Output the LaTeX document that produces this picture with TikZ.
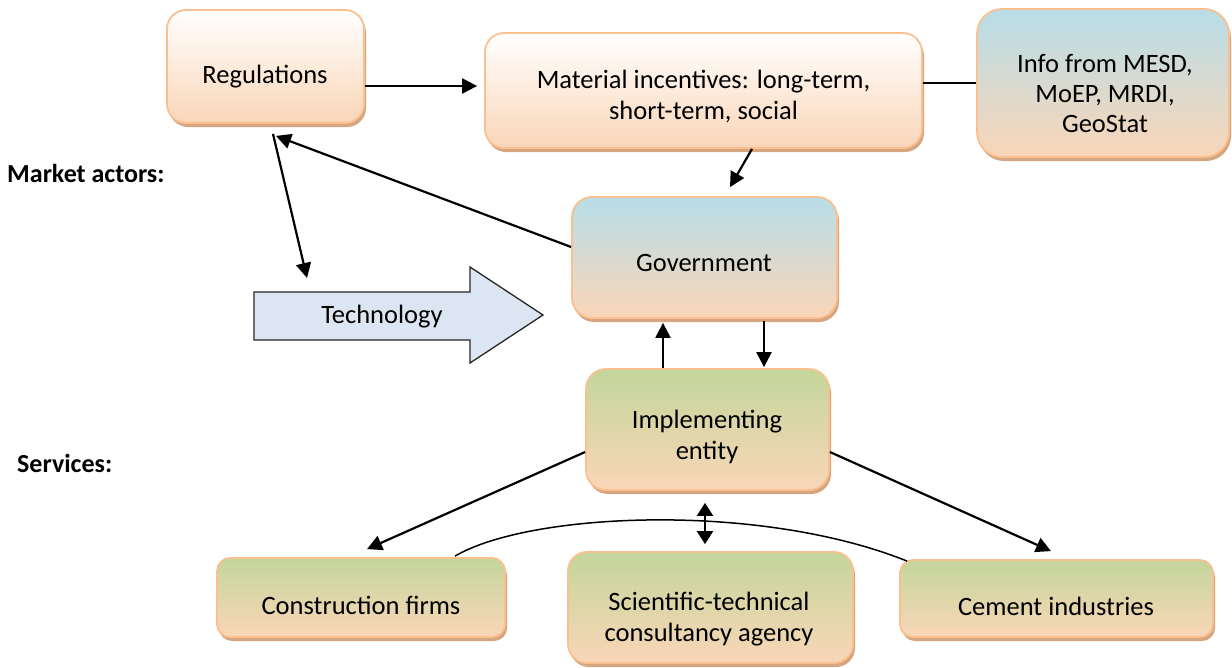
\documentclass[tikz,border=0pt]{standalone}
\usepackage{fontspec}
\setmainfont{Carlito}
\usetikzlibrary{arrows.meta,calc,shadows}
\definecolor{peach}{RGB}{250,214,184}
\definecolor{bluetop}{RGB}{183,221,232}
\definecolor{greentop}{RGB}{195,214,155}
\definecolor{borderc}{RGB}{250,192,144}
\definecolor{shadowc}{RGB}{214,166,128}
\definecolor{techfill}{RGB}{220,230,242}
\tikzset{
  box/.style={draw=borderc, line width=1.8pt, rounded corners=#1, inner sep=0pt,
    general shadow={fill=shadowc, shadow xshift=2pt, shadow yshift=-4pt}},
  obox/.style={box=#1, top color=white, bottom color=peach},
  bbox/.style={box=#1, top color=bluetop, bottom color=peach},
  gbox/.style={box=#1, top color=greentop, bottom color=peach},
  txt/.style={font=\fontsize{26.5}{31}\selectfont, inner sep=0pt},
  lbl/.style={font=\fontsize{26}{31}\selectfont\bfseries, inner sep=0pt},
  arr/.style={line width=2.2pt, -{Triangle[length=15pt,width=15pt]}},
  darr/.style={line width=2.2pt, {Triangle[length=13pt,width=16pt]}-{Triangle[length=13pt,width=16pt]}},
  thin/.style={line width=1.5pt},
  techstyle/.style={draw=black!85, line width=1.3pt, fill=techfill}
}
\begin{document}
\begin{tikzpicture}[x=1pt,y=-1pt]
\useasboundingbox (0,0) rectangle (1232,667);

% boxes
\node[obox=19pt, minimum width=197pt, minimum height=113pt] (reg) at (265.5,66.5) {};
\node[obox=19pt, minimum width=437pt, minimum height=115pt] (mat) at (703.5,90.5) {};
\node[bbox=25pt, minimum width=252pt, minimum height=148pt] (info) at (1103,83) {};
\node[bbox=20pt, minimum width=265pt, minimum height=121pt] (gov) at (704.5,257.5) {};
\node[gbox=20pt, minimum width=243pt, minimum height=121pt] (impl) at (707.5,429.5) {};
\node[gbox=13pt, minimum width=288pt, minimum height=79pt] (constr) at (361,597.5) {};
\node[gbox=19pt, minimum width=285pt, minimum height=111pt] (sci) at (710.5,607.5) {};
\node[gbox=13pt, minimum width=313pt, minimum height=77pt] (cement) at (1056.5,598.5) {};

% technology arrow
\draw[techstyle] (254,292) -- (470,292) -- (470,267) -- (543,315) -- (470,363) -- (470,340) -- (254,340) -- cycle;
\coordinate (techin) at (307,278);

% texts
\node[txt, anchor=base] (regt) at (265,83) {Regulations};
\node[txt, anchor=base] (matt) at (703.5,88) {\begin{tabular}[t]{@{}c@{}}Material incentives: long-term,\\short-term, social\end{tabular}};
\node[txt, anchor=base] (infot) at (1105,72) {\renewcommand{\arraystretch}{0.97}\begin{tabular}[t]{@{}c@{}}Info from MESD,\\MoEP, MRDI,\\GeoStat\end{tabular}};
\node[txt, anchor=base] (govt) at (704,271) {Government};
\node[txt, anchor=base] (techt) at (382,323) {Technology};
\node[txt, anchor=base] (implt) at (707,428) {\begin{tabular}[t]{@{}c@{}}Implementing\\entity\end{tabular}};
\node[txt, anchor=base] (constrt) at (361,614) {Construction firms};
\node[txt, anchor=base] (scit) at (709,610) {\begin{tabular}[t]{@{}c@{}}Scientific-technical\\consultancy agency\end{tabular}};
\node[txt, anchor=base] (cementt) at (1056,615) {Cement industries};
\node[lbl, anchor=base west] (market) at (7,182) {Market actors:};
\node[lbl, anchor=base west] (services) at (17,472) {Services:};

% connectors
\draw[arr] ($(reg.east)+(0,19.5)$) -- ($(reg.east -| mat.west)+(-7,19.5)$);
\draw[thin] (info.west -| mat.east) -- (info.west);
\draw[arr] ($(mat.south)+(48.5,0)$) -- ($(gov.north)+(25.5,-9)$);
\draw[arr] ($(gov.west)+(0,-10.5)$) -- ($(reg.south)+(10.5,12)$);
\draw[arr] ($(reg.south)+(7.5,10)$) -- (techin);
\draw[arr] ($(impl.north)+(-44.5,0)$) -- ($(gov.south)+(-41.5,4)$);
\draw[arr] ($(gov.south)+(59.5,2)$) -- ($(impl.north)+(56.5,-1)$);
\draw[arr] ($(impl.west)+(0,22.5)$) -- ($(constr.north)+(6,-8)$);
\draw[arr] ($(impl.east)+(0,22.5)$) -- ($(cement.north)+(-5.5,-8)$);
\draw[darr] ($(impl.south)+(-2.5,12)$) -- ($(sci.north)+(-5.5,-7)$);
\draw[thin] ($(constr.north)+(94,-1)$) .. controls (530,512) and (760,502) .. ($(cement.north west)+(8,2)$);
\end{tikzpicture}
\end{document}
